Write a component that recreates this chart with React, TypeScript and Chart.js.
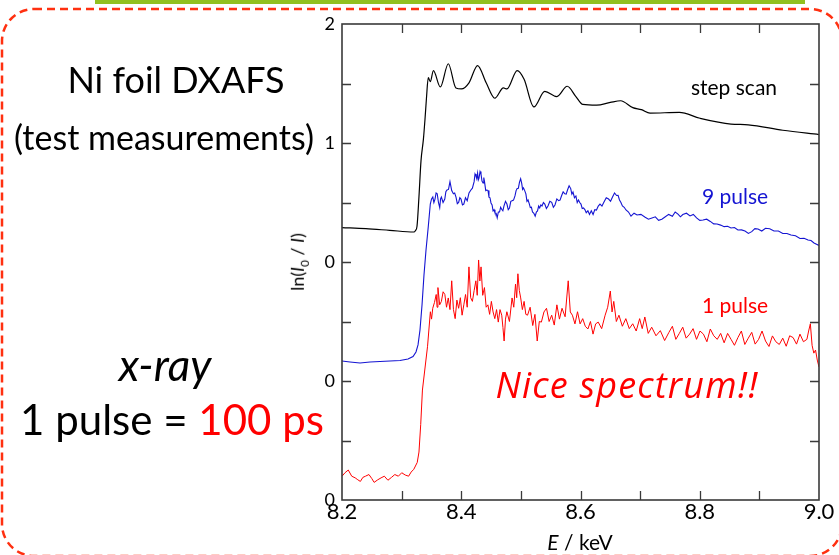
import React, { useEffect, useRef } from "react";
import { Chart, registerables } from "chart.js";

Chart.register(...registerables);

// ---- data: [E (keV), ln(I0/I)] — each spectrum has its own zero, stacked by offsets ----
const stepScan: [number, number][] = [
  [8.2, 0.289], [8.24, 0.28], [8.28, 0.266], [8.3204, 0.252], [8.3233, 0.265], [8.3258, 0.3], [8.3291, 0.55],
  [8.3325, 0.85], [8.3365, 1.03], [8.3392, 1.2], [8.3417, 1.38], [8.3447, 1.55], [8.3481, 1.515], [8.3533, 1.608],
  [8.3649, 1.471], [8.3783, 1.666], [8.391, 1.463], [8.4003, 1.454], [8.413, 1.506], [8.4274, 1.651], [8.4418, 1.506],
  [8.4563, 1.376], [8.4707, 1.463], [8.4766, 1.454], [8.4938, 1.608], [8.5054, 1.535], [8.5217, 1.303], [8.5401, 1.434],
  [8.5604, 1.39], [8.5777, 1.477], [8.5923, 1.39], [8.6039, 1.324], [8.627, 1.318], [8.65, 1.341], [8.6674, 1.355],
  [8.6877, 1.297], [8.7021, 1.28], [8.7166, 1.251], [8.7657, 1.257], [8.8004, 1.208], [8.8524, 1.159], [8.8814, 1.153],
  [8.9393, 1.107], [9.0, 1.071],
];

const pulse9: [number, number][] = [
  [8.2, 0.168], [8.2134, 0.16], [8.2302, 0.151], [8.247, 0.16], [8.2637, 0.164], [8.2805, 0.168], [8.2973, 0.172],
  [8.3107, 0.185], [8.3191, 0.206], [8.3241, 0.244], [8.3275, 0.303], [8.3308, 0.429], [8.3342, 0.639], [8.3375, 0.891],
  [8.3409, 1.101], [8.3447, 1.297], [8.3481, 1.487], [8.3502, 1.53], [8.3523, 1.546], [8.3541, 1.5], [8.356, 1.529],
  [8.3578, 1.58], [8.3597, 1.573], [8.3618, 1.5], [8.3639, 1.457], [8.3653, 1.53], [8.3667, 1.546], [8.3695, 1.5],
  [8.3724, 1.529], [8.3742, 1.59], [8.3761, 1.605], [8.3786, 1.61], [8.3811, 1.675], [8.384, 1.6], [8.3868, 1.573],
  [8.389, 1.58], [8.3912, 1.546], [8.3934, 1.49], [8.3956, 1.501], [8.3976, 1.54], [8.3996, 1.529], [8.402, 1.48],
  [8.4043, 1.487], [8.4071, 1.54], [8.41, 1.515], [8.413, 1.58], [8.4159, 1.603], [8.4187, 1.62], [8.4216, 1.675],
  [8.4231, 1.74], [8.4247, 1.723], [8.426, 1.7], [8.4274, 1.747], [8.4286, 1.69], [8.4298, 1.706], [8.4315, 1.76],
  [8.4331, 1.739], [8.4348, 1.68], [8.4365, 1.664], [8.4378, 1.71], [8.439, 1.675], [8.4411, 1.6], [8.4432, 1.605],
  [8.4449, 1.6], [8.4465, 1.545], [8.4482, 1.54], [8.4499, 1.496], [8.4517, 1.48], [8.4534, 1.429], [8.455, 1.44],
  [8.4566, 1.412], [8.4585, 1.41], [8.4603, 1.371], [8.4622, 1.42], [8.4642, 1.42], [8.466, 1.46], [8.4678, 1.443],
  [8.4698, 1.43], [8.4717, 1.471], [8.4742, 1.51], [8.4766, 1.487], [8.4788, 1.44], [8.4809, 1.454], [8.4831, 1.51],
  [8.4853, 1.515], [8.4877, 1.52], [8.4901, 1.555], [8.492, 1.6], [8.4938, 1.617], [8.4958, 1.62], [8.4977, 1.672],
  [8.4996, 1.7], [8.5014, 1.661], [8.5029, 1.61], [8.5044, 1.622], [8.5064, 1.6], [8.5084, 1.573], [8.5102, 1.51],
  [8.512, 1.521], [8.514, 1.49], [8.5158, 1.457], [8.5177, 1.46], [8.5195, 1.42], [8.5218, 1.41], [8.524, 1.385],
  [8.526, 1.42], [8.5279, 1.429], [8.5298, 1.47], [8.5316, 1.454], [8.5335, 1.48], [8.5354, 1.471], [8.5378, 1.5],
  [8.5401, 1.487], [8.5428, 1.45], [8.5455, 1.471], [8.5486, 1.51], [8.5517, 1.501], [8.5545, 1.46], [8.5572, 1.479],
  [8.5603, 1.53], [8.5633, 1.515], [8.5657, 1.52], [8.5681, 1.555], [8.5709, 1.59], [8.5737, 1.573], [8.576, 1.57],
  [8.5782, 1.605], [8.5809, 1.64], [8.5836, 1.617], [8.5855, 1.57], [8.5874, 1.588], [8.5899, 1.54], [8.5923, 1.555],
  [8.5945, 1.5], [8.5966, 1.521], [8.5987, 1.5], [8.6008, 1.487], [8.6029, 1.45], [8.605, 1.454], [8.6073, 1.44],
  [8.6096, 1.414], [8.6124, 1.43], [8.6151, 1.399], [8.6181, 1.43], [8.6211, 1.399], [8.624, 1.44], [8.6268, 1.437],
  [8.6298, 1.47], [8.6327, 1.487], [8.636, 1.47], [8.6394, 1.504], [8.6432, 1.54], [8.6471, 1.529], [8.6504, 1.51],
  [8.6537, 1.546], [8.6571, 1.58], [8.6605, 1.559], [8.663, 1.56], [8.6654, 1.521], [8.6678, 1.5], [8.6703, 1.471],
  [8.6733, 1.46], [8.6763, 1.437], [8.6805, 1.42], [8.6847, 1.385], [8.6898, 1.41], [8.6948, 1.395], [8.7013, 1.4],
  [8.7078, 1.378], [8.7139, 1.36], [8.7199, 1.37], [8.7255, 1.38], [8.731, 1.35], [8.7364, 1.36], [8.7417, 1.378],
  [8.7479, 1.4], [8.7541, 1.385], [8.7588, 1.42], [8.7635, 1.403], [8.7676, 1.38], [8.7716, 1.399], [8.7777, 1.41],
  [8.7837, 1.387], [8.7892, 1.4], [8.7947, 1.371], [8.8001, 1.35], [8.8055, 1.353], [8.8116, 1.36], [8.8177, 1.341],
  [8.8234, 1.32], [8.829, 1.319], [8.835, 1.31], [8.8409, 1.297], [8.8467, 1.3], [8.8524, 1.286], [8.8582, 1.29],
  [8.864, 1.269], [8.87, 1.27], [8.8759, 1.261], [8.8816, 1.24], [8.8872, 1.255], [8.8925, 1.28], [8.8977, 1.277],
  [8.904, 1.26], [8.9103, 1.283], [8.9174, 1.28], [8.9245, 1.261], [8.9319, 1.26], [8.9393, 1.24], [8.9462, 1.24],
  [8.953, 1.227], [8.9606, 1.22], [8.9681, 1.197], [8.9749, 1.2], [8.9816, 1.185], [8.9866, 1.18], [8.9916, 1.16],
  [8.9958, 1.15], [9.0, 1.139],
];

const pulse1: [number, number][] = [
  [8.2, 0.2], [8.2052, 0.23], [8.2105, 0.252], [8.2163, 0.2], [8.2221, 0.186], [8.2265, 0.17], [8.2308, 0.156],
  [8.235, 0.19], [8.2394, 0.2], [8.2452, 0.214], [8.25, 0.18], [8.2539, 0.148], [8.26, 0.17], [8.2655, 0.186],
  [8.271, 0.2], [8.277, 0.166], [8.283, 0.19], [8.2886, 0.214], [8.2945, 0.2], [8.3002, 0.229], [8.306, 0.21],
  [8.3117, 0.2], [8.316, 0.235], [8.3204, 0.258], [8.3262, 0.316], [8.3291, 0.403], [8.332, 0.634], [8.3349, 0.924],
  [8.3435, 1.292], [8.3482, 1.582], [8.3502, 1.52], [8.3522, 1.611], [8.3551, 1.66], [8.358, 1.727], [8.3595, 1.62],
  [8.3609, 1.785], [8.3638, 1.64], [8.3667, 1.669], [8.3696, 1.75], [8.3725, 1.727], [8.3753, 1.62], [8.3782, 1.698],
  [8.3811, 1.6], [8.384, 1.842], [8.3869, 1.6], [8.3898, 1.524], [8.3927, 1.68], [8.3956, 1.611], [8.3985, 1.7],
  [8.4014, 1.553], [8.4043, 1.64], [8.4072, 1.727], [8.41, 1.62], [8.4129, 1.959], [8.4158, 1.7], [8.4187, 1.669],
  [8.4216, 1.76], [8.4245, 1.842], [8.4268, 1.72], [8.4291, 2.017], [8.4312, 1.84], [8.4332, 1.959], [8.436, 1.72],
  [8.4389, 1.785], [8.4418, 1.62], [8.4447, 1.64], [8.4476, 1.56], [8.4505, 1.669], [8.4534, 1.58], [8.4563, 1.524],
  [8.4592, 1.6], [8.4621, 1.495], [8.465, 1.6], [8.4679, 1.553], [8.4699, 1.45], [8.4719, 1.336], [8.4742, 1.52],
  [8.4765, 1.582], [8.4808, 1.5], [8.4852, 1.698], [8.4881, 1.62], [8.491, 1.814], [8.493, 1.7], [8.495, 1.901],
  [8.4974, 1.76], [8.4997, 1.698], [8.5025, 1.6], [8.5054, 1.669], [8.5083, 1.56], [8.5112, 1.553], [8.5155, 1.62],
  [8.5199, 1.466], [8.5236, 1.56], [8.5274, 1.336], [8.5309, 1.5], [8.5344, 1.495], [8.5387, 1.58], [8.543, 1.611],
  [8.5474, 1.5], [8.5517, 1.553], [8.556, 1.47], [8.5604, 1.64], [8.5647, 1.52], [8.569, 1.611], [8.5742, 1.54],
  [8.5794, 1.842], [8.5829, 1.58], [8.5864, 1.553], [8.5907, 1.48], [8.595, 1.582], [8.5993, 1.48], [8.6037, 1.524],
  [8.608, 1.46], [8.6124, 1.437], [8.6167, 1.5], [8.621, 1.394], [8.6254, 1.48], [8.6297, 1.495], [8.6355, 1.44],
  [8.6413, 1.553], [8.6456, 1.62], [8.65, 1.756], [8.6529, 1.58], [8.6558, 1.669], [8.6601, 1.5], [8.6645, 1.553],
  [8.6702, 1.46], [8.676, 1.524], [8.6818, 1.44], [8.6876, 1.481], [8.6934, 1.42], [8.6992, 1.524], [8.7035, 1.44],
  [8.7079, 1.538], [8.7136, 1.4], [8.7194, 1.452], [8.7266, 1.38], [8.7339, 1.423], [8.7411, 1.34], [8.7483, 1.409],
  [8.7541, 1.46], [8.7599, 1.35], [8.7657, 1.4], [8.7715, 1.452], [8.7772, 1.36], [8.783, 1.394], [8.7888, 1.44],
  [8.7946, 1.35], [8.8004, 1.42], [8.8062, 1.394], [8.812, 1.33], [8.8177, 1.437], [8.8235, 1.38], [8.8293, 1.35],
  [8.8351, 1.4], [8.8409, 1.321], [8.8467, 1.4], [8.8525, 1.35], [8.8582, 1.3], [8.864, 1.365], [8.8698, 1.42],
  [8.8756, 1.307], [8.8814, 1.36], [8.8872, 1.409], [8.8929, 1.31], [8.8987, 1.35], [8.9045, 1.42], [8.9103, 1.336],
  [8.9161, 1.29], [8.9219, 1.379], [8.9276, 1.33], [8.9334, 1.307], [8.9392, 1.36], [8.945, 1.292], [8.9508, 1.38],
  [8.9566, 1.365], [8.9623, 1.31], [8.9681, 1.394], [8.9739, 1.33], [8.9797, 1.35], [8.9826, 1.42], [8.9855, 1.481],
  [8.9884, 1.3], [8.9913, 1.234], [8.9942, 1.26], [8.9971, 1.176], [9.0, 1.118],
];

const offsets = [2, 1, 0]; // vertical offsets: step scan, 9 pulse, 1 pulse
const yTickLabels = ["0", "0", "0", "1", "2"];
const xMin = 8.2;
const xMax = 9.0;

const FONT = "Lato, 'Open Sans', sans-serif";

const framePlugin = {
  id: "frameTicks",
  afterDatasetsDraw(chart: any) {
    const { ctx, chartArea } = chart;
    const { left, right, top, bottom } = chartArea;
    const xs = chart.scales.x;
    const ys = chart.scales.y;
    ctx.save();
    ctx.strokeStyle = "#3a3a3a";
    ctx.lineWidth = 1.3;
    ctx.beginPath();
    xs.ticks.forEach((t: any) => {
      const p = Math.round(xs.getPixelForValue(t.value)) + 0.5;
      if (p <= left + 2 || p >= right - 2) return;
      ctx.moveTo(p, bottom);
      ctx.lineTo(p, bottom - 9);
      ctx.moveTo(p, top);
      ctx.lineTo(p, top + 9);
    });
    ys.ticks.forEach((t: any) => {
      const p = Math.round(ys.getPixelForValue(t.value)) + 0.5;
      if (p <= top + 2 || p >= bottom - 2) return;
      ctx.moveTo(left, p);
      ctx.lineTo(left + 9, p);
      ctx.moveTo(right, p);
      ctx.lineTo(right - 9, p);
    });
    ctx.stroke();
    ctx.lineWidth = 1.6;
    ctx.strokeRect(left, top, right - left, bottom - top);
    ctx.restore();
  },
};

function pts(d: [number, number][], off: number) {
  return d.map(([e, v]) => ({ x: e, y: v + off }));
}

export default function App() {
  const ref = useRef<HTMLCanvasElement | null>(null);
  useEffect(() => {
    if (!ref.current) return;
    const chart = new Chart(ref.current, {
      type: "line",
      data: {
        datasets: [
          {
            label: "step scan",
            data: pts(stepScan, offsets[0]),
            borderColor: "#000000",
            borderWidth: 1.2,
            pointRadius: 0,
            cubicInterpolationMode: "monotone",
          },
          {
            label: "9 pulse",
            data: pts(pulse9, offsets[1]),
            borderColor: "#1414d2",
            borderWidth: 1.1,
            pointRadius: 0,
            tension: 0,
          },
          {
            label: "1 pulse",
            data: pts(pulse1, offsets[2]),
            borderColor: "#ff0000",
            borderWidth: 1,
            pointRadius: 0,
            tension: 0,
          },
        ],
      } as any,
      options: {
        animation: false,
        responsive: false,
        layout: { padding: { top: 24, right: 20, left: 0, bottom: 0 } },
        plugins: { legend: { display: false }, tooltip: { enabled: false } },
        scales: {
          x: {
            type: "linear",
            min: xMin,
            max: xMax,
            grid: { display: false, drawTicks: false },
            border: { display: false },
            ticks: {
              stepSize: 0.1,
              autoSkip: false,
              maxRotation: 0,
              padding: -1,
              color: "#000",
              font: { family: FONT, size: 22 },
              callback: (v: any) => {
                const k = Math.round(Number(v) * 10);
                return k % 2 === 0 ? (k / 10).toFixed(1) : "";
              },
            },
            afterFit: (s: any) => {
              s.height = 55;
            },
          },
          y: {
            type: "linear",
            min: 0,
            max: 4,
            grid: { display: false, drawTicks: false },
            border: { display: false },
            ticks: {
              stepSize: 0.5,
              autoSkip: false,
              padding: 7,
              color: "#000",
              font: { family: FONT, size: 18 },
              callback: (v: any) => {
                const n = Number(v);
                return Number.isInteger(n) ? yTickLabels[n] : "";
              },
            },
            afterFit: (s: any) => {
              s.width = 342;
            },
          },
        },
      } as any,
      plugins: [framePlugin],
    });
    return () => chart.destroy();
  }, []);

  const abs = (extra: React.CSSProperties): React.CSSProperties => ({
    position: "absolute",
    whiteSpace: "nowrap",
    fontFamily: FONT,
    lineHeight: 1,
    transform: "translate(-50%, -50%)",
    ...extra,
  });

  return (
    <div style={{ position: "absolute", left: 0, top: 0, width: 839, height: 555, overflow: "hidden", background: "#fff" }}>
      <div style={{ position: "absolute", left: 95, top: 0, width: 710, height: 4, background: "#92c01f" }} />
      <svg width={839} height={555} style={{ position: "absolute", left: 0, top: 0 }}>
        <rect x={2} y={9} width={840} height={547} rx={32} ry={32} fill="none" stroke="#ff3010" strokeWidth={2.5} strokeDasharray="8 5" />
      </svg>
      <canvas ref={ref} width={839} height={555} style={{ position: "absolute", left: 0, top: 0 }} />
      <div style={abs({ left: 176, top: 79, fontSize: 36, color: "#000" })}>Ni foil DXAFS</div>
      <div style={abs({ left: 164, top: 137, fontSize: 34, color: "#000" })}>(test measurements)</div>
      <div style={abs({ left: 165, top: 364, fontSize: 44, color: "#000", fontStyle: "italic" })}>x-ray</div>
      <div style={abs({ left: 172, top: 419, fontSize: 42, color: "#000" })}>
        1 pulse = <span style={{ color: "#ff0000" }}>100 ps</span>
      </div>
      <div style={abs({ left: 627, top: 385, fontSize: 36, letterSpacing: "1.2px", color: "#ff0000", fontStyle: "italic", fontFamily: "'Open Sans', sans-serif" })}>Nice spectrum!!</div>
      <div style={abs({ left: 734, top: 86, fontSize: 21, color: "#000" })}>step scan</div>
      <div style={abs({ left: 735, top: 195, fontSize: 21, color: "#1414d2" })}>9 pulse</div>
      <div style={abs({ left: 735, top: 304, fontSize: 21, color: "#ff0000" })}>1 pulse</div>
      <div style={abs({ left: 580, top: 541, fontSize: 21, color: "#000" })}>
        <i>E</i> / keV
      </div>
      <div style={abs({ left: 299, top: 262, fontSize: 18, color: "#000", transform: "translate(-50%, -50%) rotate(-90deg)" })}>
        ln(<i>I</i>
        <sub style={{ fontSize: "0.65em" }}>0</sub> / <i>I</i>)
      </div>
    </div>
  );
}
